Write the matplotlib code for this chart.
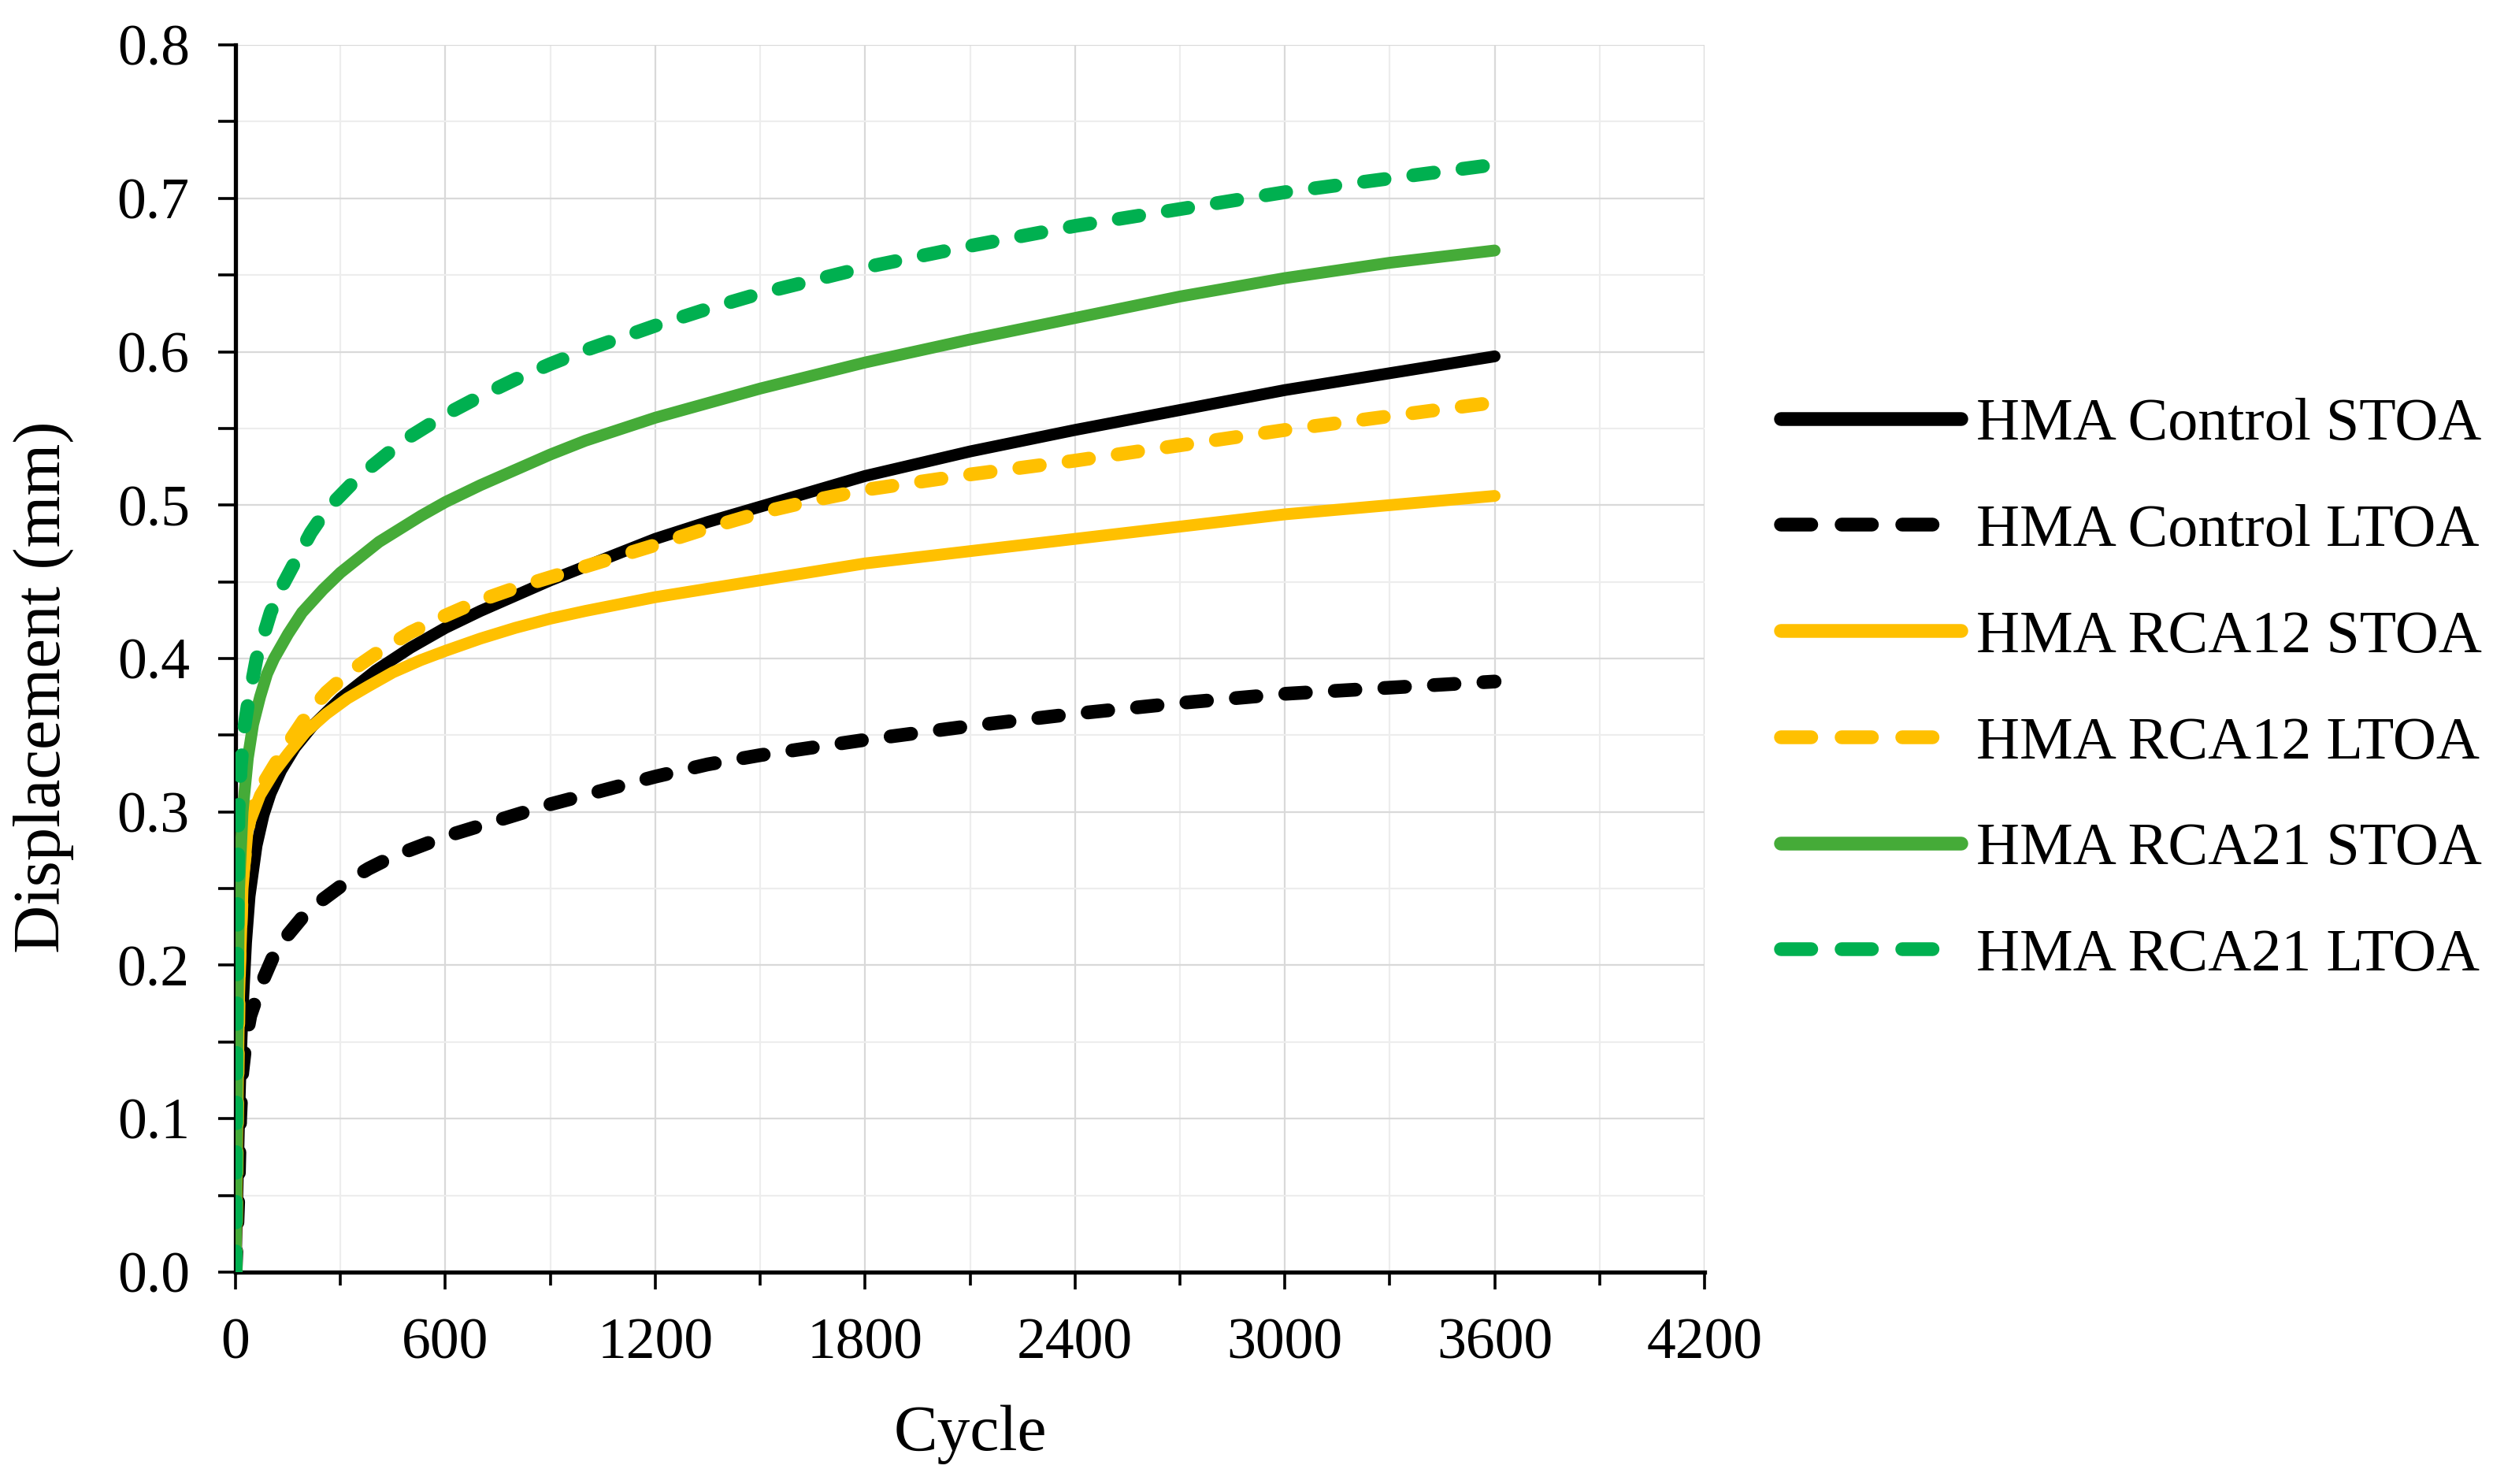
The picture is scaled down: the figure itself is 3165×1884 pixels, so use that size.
import matplotlib
matplotlib.use("Agg")
import matplotlib.pyplot as plt
from matplotlib.ticker import MultipleLocator

plt.rcParams['font.family'] = ['Liberation Serif', 'DejaVu Serif']

# Control STOA
x_ctrl_s = [0, 5, 10, 15, 20, 30, 40, 60, 80, 100, 130, 170, 220, 300, 400, 500, 600,
            700, 800, 900, 1000, 1100, 1200, 1350, 1500, 1650, 1800, 2100, 2400, 2700,
            3000, 3300, 3600]
y_ctrl_s = [0, 0.05, 0.10, 0.14, 0.17, 0.215, 0.245, 0.278, 0.298, 0.312, 0.327, 0.342,
            0.356, 0.374, 0.392, 0.407, 0.42, 0.431, 0.441, 0.451, 0.46, 0.469, 0.478,
            0.489, 0.499, 0.509, 0.519, 0.535, 0.549, 0.562, 0.575, 0.586, 0.597]

# Control LTOA
x_ctrl_l = [0, 8, 13, 19, 30, 42, 72, 110, 150, 190, 250, 315, 380, 450, 600, 700, 800,
            900, 1000, 1200, 1350, 1500, 1800, 2100, 2400, 2700, 3000, 3300, 3600]
y_ctrl_l = [0, 0.05, 0.10, 0.13, 0.152, 0.167, 0.187, 0.207, 0.22, 0.231, 0.243, 0.254,
            0.263, 0.271, 0.284, 0.291, 0.298, 0.305, 0.311, 0.323, 0.331, 0.337, 0.347,
            0.356, 0.364, 0.371, 0.377, 0.381, 0.385]

# RCA12 STOA
x_r12_s = [0, 5, 10, 20, 35, 70, 110, 150, 200, 260, 320, 380, 450, 530, 600, 700, 800,
           900, 1000, 1200, 1500, 1800, 2100, 2400, 2700, 3000, 3300, 3600]
y_r12_s = [0, 0.10, 0.18, 0.25, 0.29, 0.311, 0.326, 0.338, 0.352, 0.364, 0.374, 0.382,
           0.391, 0.399, 0.405, 0.413, 0.42, 0.426, 0.431, 0.44, 0.451, 0.462, 0.47,
           0.478, 0.486, 0.494, 0.50, 0.506]

# RCA12 LTOA
x_r12_l = [0, 5, 10, 20, 40, 70, 110, 160, 210, 260, 330, 400, 500, 600, 700, 800, 900,
           1000, 1100, 1200, 1350, 1500, 1650, 1800, 2100, 2400, 2700, 3000, 3300, 3600]
y_r12_l = [0, 0.12, 0.20, 0.26, 0.297, 0.315, 0.33, 0.348, 0.365, 0.378, 0.392, 0.403,
           0.417, 0.428, 0.438, 0.446, 0.453, 0.46, 0.467, 0.474, 0.485, 0.495, 0.503,
           0.51, 0.52, 0.529, 0.539, 0.549, 0.558, 0.567]

# RCA21 STOA
x_r21_s = [0, 5, 10, 20, 35, 50, 70, 90, 110, 150, 190, 250, 300, 410, 530, 600, 700,
           800, 900, 1000, 1200, 1500, 1800, 2100, 2400, 2700, 3000, 3300, 3600]
y_r21_s = [0, 0.15, 0.25, 0.30, 0.335, 0.357, 0.375, 0.39, 0.40, 0.416, 0.43, 0.445,
           0.456, 0.476, 0.493, 0.502, 0.513, 0.523, 0.533, 0.542, 0.557, 0.576, 0.593,
           0.608, 0.622, 0.636, 0.648, 0.658, 0.666]

# RCA21 LTOA
x_r21_l = [0, 3, 8, 15, 25, 35, 60, 100, 135, 170, 215, 260, 350, 480, 600, 700, 800,
           900, 1000, 1200, 1350, 1500, 1800, 2100, 2400, 2700, 3000, 3300, 3600]
y_r21_l = [0, 0.15, 0.30, 0.33, 0.355, 0.37, 0.40, 0.43, 0.448, 0.463, 0.482, 0.497,
           0.518, 0.542, 0.559, 0.571, 0.582, 0.592, 0.601, 0.617, 0.628, 0.638, 0.655,
           0.669, 0.682, 0.693, 0.704, 0.713, 0.722]

labels = ["HMA Control STOA", "HMA Control LTOA", "HMA RCA12 STOA",
          "HMA RCA12 LTOA", "HMA RCA21 STOA", "HMA RCA21 LTOA"]

black = "#000000"
yellow = "#FFC000"
green = "#45AB38"
green2 = "#00B050"

fig = plt.figure(figsize=(15.825, 9.42), dpi=200)
ax = fig.add_axes([0.0945, 0.1428, 0.5892, 0.8269])

dash = (1.5, 2.1)
lw_s = 5.4
lw_d = 6.3
ax.plot(x_ctrl_s, y_ctrl_s, color=black, lw=lw_s, label=labels[0], solid_capstyle="round", zorder=3)
ax.plot(x_ctrl_l, y_ctrl_l, color=black, lw=lw_d, dashes=dash, dash_capstyle="round", label=labels[1], zorder=3)
ax.plot(x_r12_s, y_r12_s, color=yellow, lw=lw_s, label=labels[2], solid_capstyle="round", zorder=3)
ax.plot(x_r12_l, y_r12_l, color=yellow, lw=lw_d, dashes=dash, dash_capstyle="round", label=labels[3], zorder=3)
ax.plot(x_r21_s, y_r21_s, color=green, lw=lw_s, label=labels[4], solid_capstyle="round", zorder=3)
ax.plot(x_r21_l, y_r21_l, color=green2, lw=lw_d, dashes=dash, dash_capstyle="round", label=labels[5], zorder=3)

ax.set_xlim(0, 4200)
ax.set_ylim(0, 0.8)
ax.xaxis.set_major_locator(MultipleLocator(600))
ax.xaxis.set_minor_locator(MultipleLocator(300))
ax.yaxis.set_major_locator(MultipleLocator(0.1))
ax.yaxis.set_minor_locator(MultipleLocator(0.05))
ax.yaxis.set_major_formatter(plt.FormatStrFormatter("%.1f"))

ax.grid(True, which="major", color="#D9D9D9", lw=0.8, zorder=0)
ax.grid(True, which="minor", color="#EDEDED", lw=0.8, zorder=0)
ax.set_axisbelow(True)

for s in ["top", "right"]:
    ax.spines[s].set_visible(False)
for s in ["left", "bottom"]:
    ax.spines[s].set_linewidth(1.9)

ax.tick_params(which="both", direction="out", width=1.3, labelsize=26.5, pad=13)
ax.tick_params(which="major", length=8)
ax.tick_params(axis="x", which="minor", length=6)
ax.tick_params(axis="y", which="minor", length=8)

ax.set_xlabel("Cycle", fontsize=30, labelpad=15.5)
ax.set_ylabel("Displacement (mm)", fontsize=30.5)
ax.yaxis.set_label_coords(-0.110, 0.477)

leg = ax.legend(loc="center left", bbox_to_anchor=(1.036, 0.474), frameon=False,
                fontsize=27.4, handlelength=3.0, handletextpad=0.25, labelspacing=0.86,
                borderaxespad=0)
for line in leg.get_lines():
    line.set_linewidth(6.3)
    if line.get_linestyle() != "-":
        line.set_dashes((2.2, 2.2))

fig.savefig("out.png", dpi=200)
